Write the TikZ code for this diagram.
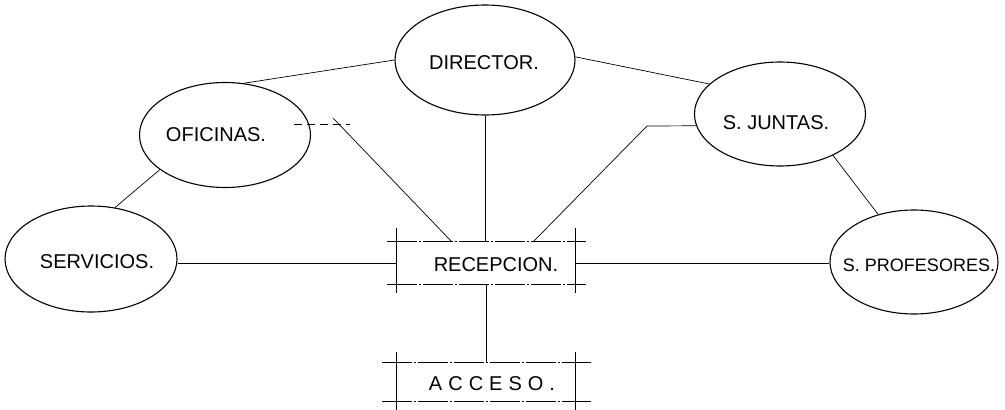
\documentclass[tikz,border=0pt]{standalone}
\usepackage{fontspec}
\setmainfont{Liberation Sans}
\usetikzlibrary{shapes.geometric,calc}
\begin{document}
\begin{tikzpicture}[x=1pt,y=-1pt,
  room/.style={draw,ellipse,line width=1.1pt,inner sep=0pt},
  box/.style={inner sep=0pt},
  conn/.style={line width=0.7pt},
  boxline/.style={line width=0.7pt,dash pattern=on 30pt off 2pt on 2pt off 2pt},
  lbl/.style={font=\fontsize{20}{22}\selectfont,inner sep=0pt}]
\useasboundingbox (0,0) rectangle (1005,410);
% rooms
\node[room,minimum width=180pt,minimum height=110pt] (dir) at (485,60) {};
\node[room,minimum width=171pt,minimum height=105pt] (ofi) at (225,135) {};
\node[room,minimum width=171pt,minimum height=104pt] (jun) at (780,114) {};
\node[room,minimum width=172pt,minimum height=106pt] (ser) at (91,259) {};
\node[room,minimum width=168pt,minimum height=104pt] (pro) at (914,262) {};
% boxes
\node[box,minimum width=179pt,minimum height=42pt] (rec) at (486,263) {};
\node[box,minimum width=179pt,minimum height=38pt] (acc) at (486,382) {};
% labels
\node[lbl] (tdir) at (484,63) {DIRECTOR.};
\node[lbl] (tofi) at (216,135) {OFICINAS.};
\node[lbl] (tjun) at (776,123) {S. JUNTAS.};
\node[lbl] (tser) at (97,262) {SERVICIOS.};
\node[lbl,font=\fontsize{18}{20}\selectfont] (tpro) at (919,265) {S. PROFESORES.};
\node[lbl] (trec) at (496,265) {RECEPCION.};
\node[lbl] (tacc) at (492,384) {\addfontfeature{LetterSpace=30}ACCESO.};
% box lines of RECEPCION
\draw[boxline] ($(rec.north west)+(-9,0)$) -- ($(rec.north east)+(10,0)$);
\draw[boxline] ($(rec.south west)+(-9,0)$) -- ($(rec.south east)+(10,0)$);
\draw[conn] ($(rec.north west)+(0,-14)$) -- ($(rec.south west)+(0,9)$);
\draw[conn] ($(rec.north east)+(0,-14)$) -- ($(rec.south east)+(0,9)$);
% box lines of ACCESO
\draw[boxline] ($(acc.north west)+(-14,0)$) -- ($(acc.north east)+(15,0)$);
\draw[boxline] ($(acc.south west)+(-14,0)$) -- ($(acc.south east)+(15,0)$);
\draw[conn] ($(acc.north west)+(0,-11)$) -- ($(acc.south west)+(0,12)$);
\draw[conn] ($(acc.north east)+(0,-11)$) -- ($(acc.south east)+(0,12)$);
% helper coordinates
\coordinate (ostart) at (294,124);
\coordinate (oend) at (350,124);
\coordinate (obend) at (333,118);
\coordinate (recA) at (452,242);
\coordinate (jbend) at (647,126);
\coordinate (recB) at (533,242);
% connectors
\draw[conn] (dir.180) -- (ofi.70);
\draw[conn] (dir.2) -- (jun.157);
\draw[conn] (dir.south) -- (dir.south |- rec.north);
\draw[conn,dash pattern=on 8pt off 5pt] (ostart) -- (oend);
\draw[conn] (obend) -- (recA);
\draw[conn] (jun.188) -- (jbend) -- (recB);
\draw[conn] (ofi.208) -- (ser.65);
\draw[conn] (jun.322) -- (pro.127);
\draw[conn] (rec.west) -- (rec.west -| ser.east);
\draw[conn] (rec.east) -- (rec.east -| pro.west);
\draw[conn] (rec.south) -- (acc.north);
\end{tikzpicture}
\end{document}
